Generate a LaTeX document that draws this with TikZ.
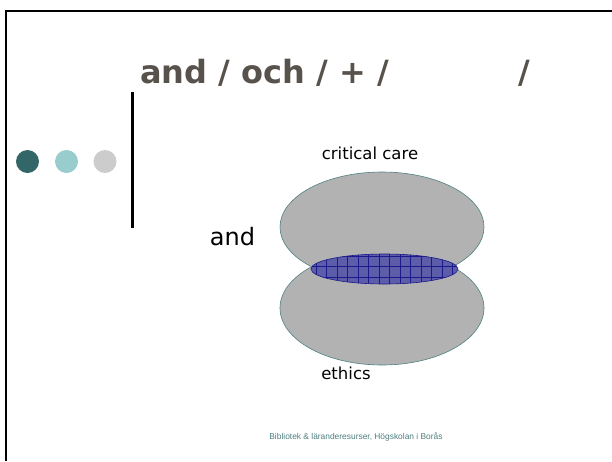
\documentclass[tikz,border=0pt]{standalone}
\usepackage{fontspec}
\usetikzlibrary{shapes.geometric}
\setmainfont{Liberation Sans}
\newfontfamily\dejavu{DejaVu Sans}
\definecolor{titlecol}{HTML}{58524C}
\definecolor{darkteal}{HTML}{336666}
\definecolor{lightteal}{HTML}{99CCCC}
\definecolor{dotgray}{HTML}{CCCCCC}
\definecolor{blobgray}{HTML}{B2B2B2}
\definecolor{blobedge}{HTML}{4F8080}
\definecolor{hatchfill}{HTML}{5C5CA8}
\definecolor{hatchline}{HTML}{1A1A8C}
\definecolor{footcol}{HTML}{4D7F7F}
\tikzset{
  frameline/.style={line width=2.2pt, black},
  dotmark/.style={circle, minimum size=23pt, inner sep=0pt, draw=none},
  blob/.style={fill=blobgray, draw=blobedge, line width=0.6pt},
  lbl/.style={font=\dejavu\fontsize{16.5}{18}\selectfont, inner sep=0pt, text=black},
}
\begin{document}
\begin{tikzpicture}[x=1pt,y=-1pt]
\useasboundingbox (0,0) rectangle (612,461);
\fill[white] (0,0) rectangle (612,461);
% frame
\draw[frameline] (6,11) -- (612,11);
\draw[frameline] (6,10) -- (6,461);
% vertical bar
\draw[line width=3pt, black] (132,92) -- (132,228);
% dots
\node[dotmark, fill=darkteal] (d1) at (27.5,161.5) {};
\node[dotmark, fill=lightteal] (d2) at (66.5,161.5) {};
\node[dotmark, fill=dotgray] (d3) at (105,161.5) {};
% title
\node[anchor=base west, inner sep=0pt, text=titlecol, font=\dejavu\bfseries\fontsize{32}{36}\selectfont] (title) at (140,83) {and / och / + /\hspace{130pt}/};
% ellipses
\node[blob, ellipse, minimum width=204pt, minimum height=114pt, inner sep=0pt] (lower) at (382,308) {};
\node[blob, ellipse, minimum width=204pt, minimum height=110pt, inner sep=0pt] (upper) at (382,227) {};
% intersection ellipse with grid
\begin{scope}
  \clip (384.5,269) ellipse [x radius=73.5, y radius=15];
  \fill[hatchfill] (300,250) rectangle (470,290);
  \foreach \gx in {316,326.5,...,460} {\draw[hatchline, line width=0.5pt] (\gx,250) -- (\gx,290);}
  \foreach \gy in {256,266.5,...,290} {\draw[hatchline, line width=0.5pt] (300,\gy) -- (470,\gy);}
\end{scope}
\node[ellipse, draw=hatchline, line width=0.6pt, inner sep=0pt, minimum width=147pt, minimum height=30pt] (overlap) at (384.5,269) {};
% labels
\node[lbl, anchor=base] (cc) at (370,159) {critical care};
\node[lbl, anchor=base] (eth) at (346,379) {ethics};
\node[anchor=base, inner sep=0pt, font=\dejavu\fontsize{24}{27}\selectfont] (andlbl) at (232.5,245) {and};
\node[anchor=base, inner sep=0pt, text=footcol, font=\fontsize{8.4}{10}\selectfont] (foot) at (356,439) {Bibliotek \& läranderesurser, Högskolan i Borås};
\end{tikzpicture}
\end{document}
